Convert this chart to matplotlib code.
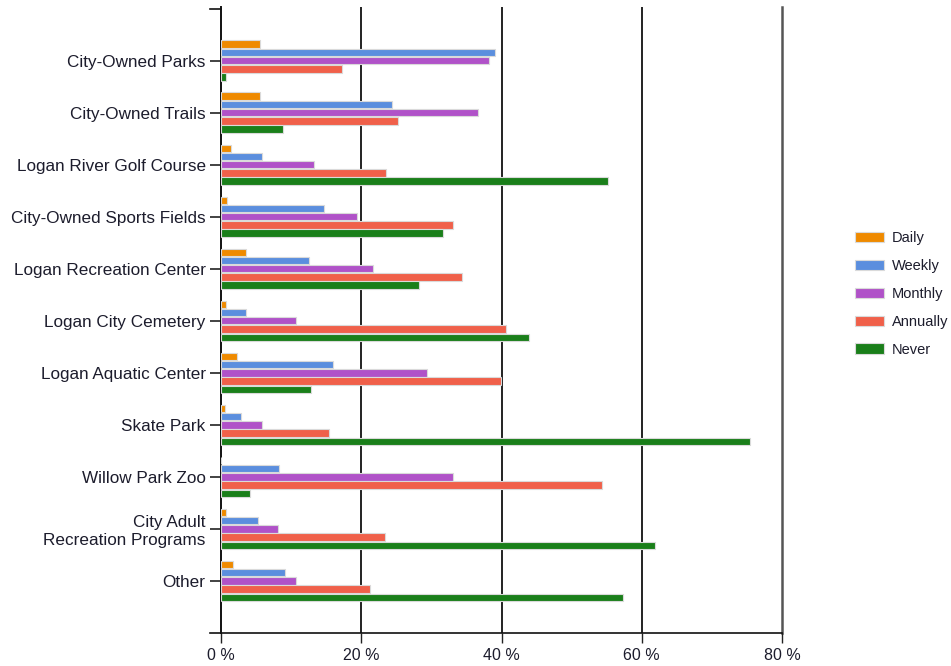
import numpy as np
import matplotlib
matplotlib.use("Agg")
import matplotlib.pyplot as plt

plt.rcParams["font.family"] = ["Liberation Sans", "DejaVu Sans"]

categories = ["City-Owned Parks", "City-Owned Trails", "Logan River Golf Course",
              "City-Owned Sports Fields", "Logan Recreation Center", "Logan City Cemetery",
              "Logan Aquatic Center", "Skate Park", "Willow Park Zoo",
              "City Adult\nRecreation Programs", "Other"]
series_names = ["Daily", "Weekly", "Monthly", "Annually", "Never"]
daily = [5.6, 5.6, 1.4, 0.85, 3.5, 0.7, 2.3, 0.55, 0.0, 0.7, 1.7]
weekly = [39.1, 24.4, 5.8, 14.7, 12.5, 3.5, 16.0, 2.8, 8.3, 5.3, 9.1]
monthly = [38.2, 36.7, 13.2, 19.4, 21.7, 10.7, 29.4, 5.9, 33.1, 8.1, 10.7]
annually = [17.2, 25.2, 23.6, 33.1, 34.4, 40.6, 39.9, 15.4, 54.3, 23.4, 21.2]
never = [0.7, 8.8, 55.2, 31.6, 28.2, 43.9, 12.9, 75.5, 4.1, 61.9, 57.3]
colors = ["#ef8a00", "#5b8ede", "#b052c8", "#f0604a", "#1a7f1a"]

values = [daily, weekly, monthly, annually, never]
text_col = "#1c1c2c"

fig = plt.figure(figsize=(9.51, 6.66), dpi=100)
ax = fig.add_axes([221 / 951, 1 - 633 / 666, 561 / 951, 626 / 666])

y = np.arange(len(categories))
slot = 0.158
bar_h = 0.142
for i, (name, vals, c) in enumerate(zip(series_names, values, colors)):
    offs = (i - 2) * slot
    ax.barh(y + offs, vals, height=bar_h, color=c, edgecolor="#dadada",
            linewidth=0.8, label=name, zorder=3)

ax.set_xlim(0, 80)
ax.set_ylim(11.0, -1.03)
ax.set_xticks([0, 20, 40, 60, 80])
ax.set_xticklabels(["0 %", "20 %", "40 %", "60 %", "80 %"], fontsize=11.5, color=text_col)
ax.set_yticks(y)
ax.set_yticklabels(categories, fontsize=12.3, color=text_col)
ax.tick_params(axis="y", length=8, width=1.2, color="#222222", pad=3)
ax.tick_params(axis="x", length=7, width=1.0, color="#222222", pad=4)

for xv in [20, 40, 60]:
    ax.axvline(xv, color="#111111", lw=1.3, zorder=1)
ax.axvline(80, color="#555555", lw=1.8, zorder=1, clip_on=False)

for s in ["top", "right"]:
    ax.spines[s].set_visible(False)
ax.spines["left"].set_linewidth(1.4)
ax.spines["bottom"].set_linewidth(1.2)
ax.spines["left"].set_color("#111111")
ax.spines["bottom"].set_color("#111111")

# axis line runs a little past the left edge, plus the top end tick
ax.plot([-0.02, 0], [0, 0], transform=ax.transAxes, color="#111111", lw=1.2, clip_on=False)
ax.plot([-0.02, 0], [0.997, 0.997], transform=ax.transAxes, color="#111111", lw=1.2, clip_on=False)

handles, labels = ax.get_legend_handles_labels()
fig.legend(handles, labels, loc="center left", bbox_to_anchor=(842 / 951, 1 - 294 / 666),
           frameon=False, fontsize=10.5, handlelength=2.0, handleheight=0.7,
           labelspacing=0.95, handletextpad=0.5, labelcolor=text_col)

fig.savefig("out.png", dpi=100)
